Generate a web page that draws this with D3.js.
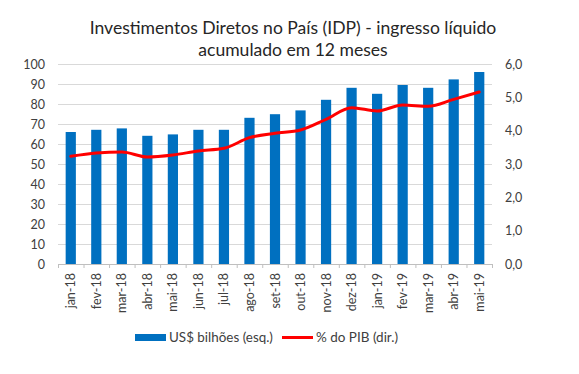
<!DOCTYPE html>
<html lang="pt">
<head>
<meta charset="UTF-8">
<title>IDP</title>
<style>
  body { margin: 0; background: #fff; }
  svg text { font-family: Lato, "Open Sans", sans-serif; fill: #404040; }
  .title { fill: #262626; }
</style>
</head>
<body>
<div id="chart"></div>
<script src="https://d3js.org/d3.v7.min.js"></script>
<script>
  // dados
  const months = ["jan-18", "fev-18", "mar-18", "abr-18", "mai-18", "jun-18", "jul-18", "ago-18", "set-18",
                  "out-18", "nov-18", "dez-18", "jan-19", "fev-19", "mar-19", "abr-19", "mai-19"];
  const usdBilhoes = [66.0, 67.1, 67.8, 64.1, 64.8, 67.1, 67.1, 73.1, 74.9, 76.8, 82.1, 88.1, 85.1, 89.5, 88.1, 92.3, 96.0];
  const pctPib = [3.23, 3.33, 3.36, 3.21, 3.27, 3.39, 3.47, 3.79, 3.92, 4.02, 4.34, 4.69, 4.59, 4.77, 4.73, 4.94, 5.16];
  const leftTicks = [0, 10, 20, 30, 40, 50, 60, 70, 80, 90, 100];
  const rightTicks = [0, 1, 2, 3, 4, 5, 6];

  const width = 579;
  const height = 374;
  const plot = { left: 58, right: 492, top: 64, bottom: 264 };

  const svg = d3.select("#chart").append("svg")
    .attr("width", width)
    .attr("height", height);

  const x = d3.scaleBand()
    .domain(months)
    .range([plot.left, plot.right])
    .paddingInner(0.6)
    .paddingOuter(0.3);

  const yL = d3.scaleLinear().domain([0, 100]).range([plot.bottom, plot.top]);
  const yR = d3.scaleLinear().domain([0, 6]).range([plot.bottom, plot.top]);

  // ajusta o tamanho da fonte para uma largura alvo
  function fitText(sel, size, target) {
    const w = sel.node().getComputedTextLength();
    sel.style("font-size", (size * target / w).toFixed(2) + "px");
  }

  // título
  const title = svg.append("text")
    .attr("class", "title")
    .attr("text-anchor", "middle")
    .attr("x", 293)
    .style("font-size", "18px");
  title.append("tspan").attr("x", 293).attr("y", 34).text("Investimentos Diretos no País (IDP) - ingresso líquido");
  title.append("tspan").attr("x", 293).attr("y", 56).text("acumulado em 12 meses");
  const tw = title.select("tspan").node().getComputedTextLength();
  title.style("font-size", (18 * 407 / tw).toFixed(2) + "px");

  // grade
  svg.append("g")
    .selectAll("line")
    .data(leftTicks.slice(1))
    .join("line")
    .attr("x1", plot.left)
    .attr("x2", plot.right)
    .attr("y1", d => yL(d) + 0.5)
    .attr("y2", d => yL(d) + 0.5)
    .attr("stroke", "#d9d9d9");

  // eixo esquerdo
  const axisL = svg.append("g")
    .attr("transform", `translate(${plot.left - 13},0)`)
    .call(d3.axisLeft(yL).tickValues(leftTicks).tickSize(0).tickPadding(0));
  axisL.select(".domain").remove();
  axisL.selectAll("text").style("font-size", "12.5px").attr("fill", "#404040");

  // eixo direito
  const fmt = d => d3.format(".1f")(d).replace(".", ",");
  const axisR = svg.append("g")
    .attr("transform", `translate(${plot.right + 13},0)`)
    .call(d3.axisRight(yR).tickValues(rightTicks).tickFormat(fmt).tickSize(0).tickPadding(0));
  axisR.select(".domain").remove();
  axisR.selectAll("text").style("font-size", "12.5px").attr("fill", "#404040");

  // barras
  svg.append("g")
    .selectAll("rect")
    .data(usdBilhoes)
    .join("rect")
    .attr("x", (d, i) => x(months[i]))
    .attr("width", x.bandwidth())
    .attr("y", d => yL(d))
    .attr("height", d => yL(0) - yL(d))
    .attr("fill", "#0070C0");

  // eixo x
  svg.append("line")
    .attr("x1", plot.left).attr("x2", plot.right)
    .attr("y1", plot.bottom + 0.5).attr("y2", plot.bottom + 0.5)
    .attr("stroke", "#bfbfbf");
  svg.append("g")
    .selectAll("line")
    .data(d3.range(months.length + 1))
    .join("line")
    .attr("x1", i => plot.left + i * (plot.right - plot.left) / months.length + 0.5)
    .attr("x2", i => plot.left + i * (plot.right - plot.left) / months.length + 0.5)
    .attr("y1", plot.bottom)
    .attr("y2", plot.bottom + 4)
    .attr("stroke", "#bfbfbf");

  svg.append("g")
    .selectAll("text")
    .data(months)
    .join("text")
    .attr("transform", d => `translate(${x(d) + x.bandwidth() / 2 + 4.5},${plot.bottom + 9}) rotate(-90)`)
    .attr("text-anchor", "end")
    .style("font-size", "12.5px")
    .text(d => d);

  // linha % do PIB
  const line = d3.line()
    .x((d, i) => x(months[i]) + x.bandwidth() / 2)
    .y(d => yR(d))
    .curve(d3.curveMonotoneX);
  svg.append("path")
    .datum(pctPib)
    .attr("d", line)
    .attr("fill", "none")
    .attr("stroke", "#FF0000")
    .attr("stroke-width", 3)
    .attr("stroke-linecap", "round");

  // legenda
  const leg = svg.append("g");
  leg.append("rect").attr("x", 135).attr("y", 334).attr("width", 31).attr("height", 7).attr("fill", "#0070C0");
  const l1 = leg.append("text").attr("x", 169).attr("y", 342).style("font-size", "12px").text("US$ bilhões (esq.)");
  fitText(l1, 12, 104);
  leg.append("line").attr("x1", 282).attr("x2", 313).attr("y1", 337.5).attr("y2", 337.5)
    .attr("stroke", "#FF0000").attr("stroke-width", 3);
  const l2 = leg.append("text").attr("x", 316).attr("y", 342).style("font-size", "12px").text("% do PIB (dir.)");
  fitText(l2, 12, 82);
</script>
</body>
</html>
